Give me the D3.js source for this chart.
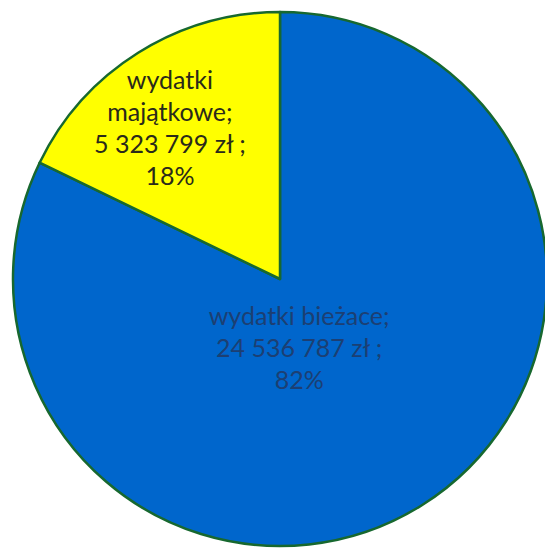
<!DOCTYPE html>
<html>
<head>
<meta charset="utf-8">
<script src="https://cdn.jsdelivr.net/npm/d3@7"></script>
<style>
  html, body { margin: 0; padding: 0; background: #ffffff; }
  svg { display: block; }
</style>
</head>
<body>
<div id="chart"></div>
<script>
// ---- data ----
const categories = ["wydatki bieżace", "wydatki majątkowe"];
const values = [24536787, 5323799];
const percentLabels = ["82%", "18%"];
const colors = ["#0066cc", "#ffff00"];

// ---- layout / style ----
const W = 545, H = 549;
const cx = 280, cy = 279, R = 267;
const labelStyle = [
  { rFrac: 0.27, angleShift: 16.7, fill: "#1c3f73" }, // blue
  { rFrac: 0.70, angleShift: -4.0, fill: "#2a2a1a" }  // yellow
];

const svg = d3.select("#chart").append("svg")
  .attr("width", W).attr("height", H);

const g = svg.append("g").attr("transform", `translate(${cx},${cy})`);

const pie = d3.pie().sort(null).value(d => d.value);
const data = categories.map((c, i) => ({ name: c, value: values[i], pct: percentLabels[i], color: colors[i] }));
const arcs = pie(data);

const arc = d3.arc().innerRadius(0).outerRadius(R);

g.selectAll("path.slice").data(arcs).enter().append("path")
  .attr("class", "slice")
  .attr("d", arc)
  .attr("fill", d => d.data.color)
  .attr("stroke", "#17682f")
  .attr("stroke-width", 2.5)
  .attr("stroke-linejoin", "round");

const fmt = v => d3.format(",")(v).replace(/,/g, " ");

const fontSize = 25;
const lineH = 32;

arcs.forEach((a, i) => {
  const st = labelStyle[i];
  const mid = (a.startAngle + a.endAngle) / 2 + st.angleShift * Math.PI / 180;
  const r = st.rFrac * R;
  const x = r * Math.sin(mid), y = -r * Math.cos(mid);
  let lines;
  if (i === 0) {
    lines = [a.data.name + ";", fmt(a.data.value) + " zł ;", a.data.pct];
  } else {
    const parts = a.data.name.split(" ");
    lines = [parts[0], parts.slice(1).join(" ") + ";", fmt(a.data.value) + " zł ;", a.data.pct];
  }
  const n = lines.length;
  const t = g.append("text")
    .attr("text-anchor", "middle")
    .attr("font-family", "Lato, 'Open Sans', sans-serif")
    .attr("font-size", fontSize)
    .attr("fill", st.fill);
  lines.forEach((ln, k) => {
    t.append("tspan")
      .attr("x", x)
      .attr("y", y + (k - (n - 1) / 2) * lineH)
      .attr("dy", "0.35em")
      .text(ln);
  });
});
</script>
</body>
</html>
